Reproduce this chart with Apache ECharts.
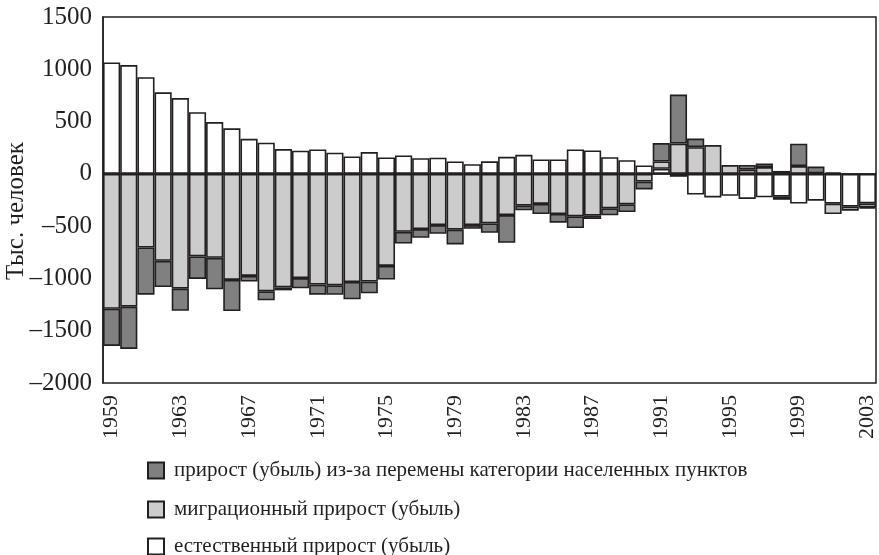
<!DOCTYPE html>
<html>
<head>
<meta charset="utf-8">
<script src="https://cdn.jsdelivr.net/npm/echarts@6/dist/echarts.min.js"></script>
</head>
<body style="margin:0;background:#fff;">
<div id="main" style="width:879px;height:555px;"></div>
<script>
// годы
var years = [];
for (var y = 1959; y <= 2003; y++) years.push(String(y));

// естественный прирост (убыль), тыс. человек
var natural = [1065, 1040, 925, 780, 725, 590, 495, 435, 335, 298,
    237, 222, 234, 202, 166, 208, 157, 176, 150, 154,
    118, 93, 120, 163, 182, 138, 138, 234, 224, 160,
    131, 80, 48, -28, -198, -225, -210, -240, -224, -218,
    -284, -256, -285, -314, -282];

// миграционный прирост (убыль)
var migration = [-1290, -1270, -704, -832, -1098, -790, -803, -1014, -976, -1123,
    -1085, -997, -1059, -1066, -1034, -1030, -880, -554, -528, -490,
    -534, -490, -474, -394, -304, -288, -384, -406, -400, -330,
    -291, -74, 70, 290, 255, 275, 84, 40, 65, 28,
    74, 5, -100, -38, -38];

// прирост (убыль) из-за перемены категории населенных пунктов
var reclass = [-355, -404, -451, -250, -211, -215, -301, -298, -54, -86,
    -29, -97, -96, -90, -166, -112, -131, -112, -83, -83,
    -141, -35, -90, -265, -45, -96, -83, -112, -32, -67,
    -74, -75, 176, 468, 82, '-', '-', 45, 35, -30,
    214, 65, 15, '-', -10];

var names = [
    'прирост (убыль) из-за перемены категории населенных пунктов',
    'миграционный прирост (убыль)',
    'естественный прирост (убыль)'
];

var font = 'Liberation Serif';
var ink = '#231f20';

var myChart = echarts.init(document.getElementById('main'));

function barSeries(name, data, color) {
    return {
        name: name,
        type: 'bar',
        stack: 'total',
        data: data,
        barCategoryGap: '0%',
        animation: false,
        itemStyle: {
            color: color,
            borderColor: ink,
            borderWidth: 1.6
        }
    };
}

// одна легенда на строку, чтобы не переносились в колонки
function legendRow(name, top) {
    return {
        data: [name],
        orient: 'vertical',
        left: 147,
        top: top,
        padding: 0,
        icon: 'rect',
        itemWidth: 16,
        itemHeight: 16,
        selectedMode: false,
        textStyle: {
            fontFamily: font,
            fontSize: 21,
            color: ink,
            padding: [0, 0, 0, 5]
        }
    };
}

var option = {
    backgroundColor: '#fff',
    grid: {
        left: 103,
        right: 3,
        top: 17,
        bottom: 172,
        outerBoundsMode: 'none',
        containLabel: false,
        show: true,
        borderColor: ink,
        borderWidth: 1.5
    },
    legend: [
        legendRow(names[0], 460),
        legendRow(names[1], 499),
        legendRow(names[2], 536)
    ],
    xAxis: {
        type: 'category',
        data: years,
        axisLine: { lineStyle: { color: ink, width: 1.5 } },
        axisTick: { show: false },
        axisLabel: {
            interval: 3,
            rotate: 90,
            margin: 12,
            fontFamily: font,
            fontSize: 22,
            color: ink
        }
    },
    yAxis: {
        type: 'value',
        min: -2000,
        max: 1500,
        interval: 500,
        name: 'Тыс. человек',
        nameLocation: 'middle',
        nameGap: 74,
        nameMoveOverlap: false,
        nameRotate: 90,
        nameTextStyle: {
            fontFamily: font,
            fontSize: 25,
            color: ink,
            padding: [0, 22, 0, 0]
        },
        splitLine: { show: false },
        axisLine: { show: true, lineStyle: { color: ink, width: 1.5 } },
        axisTick: { show: false },
        axisLabel: {
            margin: 11,
            fontFamily: font,
            fontSize: 25,
            color: ink,
            formatter: function (v) {
                return v < 0 ? '\u2013' + Math.abs(v) : String(v);
            }
        }
    },
    series: [
        barSeries(names[2], natural, '#ffffff'),
        barSeries(names[1], migration, '#cccccc'),
        barSeries(names[0], reclass, '#808080')
    ]
};

// линия нуля
option.series[0].markLine = {
    silent: true,
    symbol: 'none',
    label: { show: false },
    lineStyle: { color: ink, width: 1.5, type: 'solid' },
    data: [{ yAxis: 0 }]
};

myChart.setOption(option);
</script>
</body>
</html>
